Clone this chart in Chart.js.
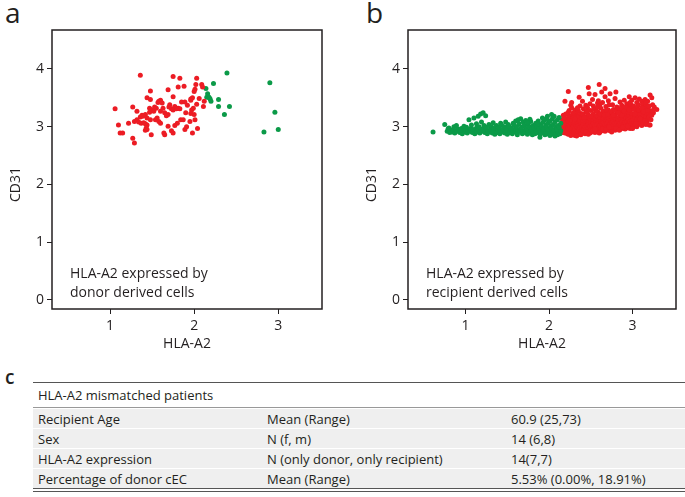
<!DOCTYPE html>
<html>
<head>
<meta charset="utf-8">
<script src="https://cdn.jsdelivr.net/npm/chart.js@4.4.0/dist/chart.umd.min.js"></script>
<style>
  body { margin:0; width:685px; height:497px; background:#fff; position:relative; overflow:hidden;
         font-family:"Open Sans", sans-serif; color:#231f20; }
  canvas { position:absolute; top:0; }
  #chartA { left:0; }
  #chartB { left:356px; }
  .panel { position:absolute; font-size:28px; line-height:1; }
  #lblC { font-size:19px; font-weight:600; left:5px; top:368px; }
  table { position:absolute; left:33px; top:382px; width:652px; border-collapse:separate; border-spacing:0;
          font-size:13px; color:#231f20; border-top:1px solid #555; border-bottom:4px double #555; }
  td { padding:0 0 0 5px; height:19px; text-align:left; white-space:nowrap; }
  thead td { height:24px; border-bottom:1px solid #999; }
  tbody td { background:#efefef; border-top:1px solid #fff; }
</style>
</head>
<body>
<div class="panel" style="left:5px;top:-2px">a</div>
<div class="panel" style="left:366px;top:-2px">b</div>
<canvas id="chartA" width="340" height="360"></canvas>
<canvas id="chartB" width="329" height="360"></canvas>
<div class="panel" id="lblC">c</div>
<table id="tbl">
  <colgroup><col style="width:229px"><col style="width:244px"><col></colgroup>
  <thead></thead><tbody></tbody>
</table>
<script>
const xTicks = [1, 2, 3];
const yTicks = [0, 1, 2, 3, 4];

// panel a: donor derived cells
const aRed = [
  [1.36,3.89],[1.75,3.87],[1.83,3.84],[2.03,3.84],[1.81,3.69],[1.88,3.70],[1.69,3.64],[1.48,3.62],
  [2.02,3.73],[2.09,3.73],[2.10,3.69],[2.00,3.61],[2.01,3.65],[1.75,3.52],[1.44,3.50],[1.48,3.47],
  [1.58,3.44],[1.60,3.46],[1.57,3.42],[1.85,3.43],[1.89,3.43],[1.96,3.48],[1.98,3.50],[1.96,3.46],
  [2.06,3.49],[2.03,3.39],[2.12,3.44],[1.06,3.31],[1.27,3.34],[1.32,3.27],[1.47,3.32],[1.50,3.29],
  [1.52,3.27],[1.47,3.25],[1.55,3.32],[1.60,3.27],[1.71,3.38],[1.77,3.35],[1.81,3.32],[1.83,3.31],
  [1.75,3.29],[1.79,3.31],[1.73,3.31],[1.90,3.24],[1.97,3.29],[1.99,3.32],[1.96,3.23],[2.11,3.35],
  [1.69,3.21],[1.67,3.19],[1.65,3.24],[1.38,3.20],[1.42,3.21],[1.44,3.15],[1.36,3.17],[1.48,3.12],
  [1.54,3.12],[1.58,3.09],[1.29,3.09],[1.32,3.12],[1.22,3.06],[1.10,3.03],[1.34,3.08],[1.37,3.06],
  [1.42,3.05],[1.44,3.03],[1.43,2.98],[1.42,2.94],[1.44,2.95],[1.60,3.06],[1.69,3.01],[1.84,3.12],
  [1.87,3.12],[1.95,3.09],[2.00,3.21],[2.01,3.12],[1.77,3.02],[1.89,2.95],[1.98,2.89],[2.04,2.97],
  [1.12,2.89],[1.15,2.89],[1.49,2.86],[1.64,2.89],[1.65,2.86],[1.73,2.93],[1.75,2.89],[1.27,2.80],
  [1.29,2.72],[1.39,3.18],[1.40,3.07],[1.53,3.34],[1.62,3.41],[1.70,3.34],[1.56,3.15],[1.80,3.06],
  [1.92,3.37],[1.63,3.32],[1.91,3.00]
];
const aGreen = [
  [2.39,3.93],[2.23,3.75],[2.14,3.66],[2.16,3.57],[2.17,3.52],[2.15,3.51],[2.19,3.48],[2.20,3.44],
  [2.18,3.50],[2.29,3.47],[2.29,3.35],[2.42,3.35],[2.36,3.21],[2.90,3.76],[2.96,3.25],[3.00,2.95],
  [2.83,2.91]
];

// panel b: recipient derived cells
const bGreen = [
  [0.61,2.91],[0.75,3.04],[0.78,2.92],[0.79,2.96],[0.81,2.90],[0.82,2.94],[0.80,2.98],[0.84,2.91],
  [0.85,2.95],[0.87,2.89],[0.88,2.93],[0.86,3.00],[0.90,2.92],[0.91,2.96],[0.89,3.02],[0.93,2.90],
  [0.94,2.94],[0.96,2.88],[0.97,2.93],[0.95,2.97],[0.99,2.91],[1.00,2.95],[0.98,3.01],[1.02,2.89],
  [1.03,2.94],[1.01,2.99],[1.05,2.92],[1.06,2.97],[1.04,3.12],[1.08,2.90],[1.09,2.95],[1.07,3.03],
  [1.10,3.15],[1.11,2.88],[1.12,2.93],[1.13,2.98],[1.14,2.91],[1.15,2.96],[1.13,3.05],[1.15,3.18],
  [1.17,2.89],[1.18,2.94],[1.16,3.00],[1.18,3.22],[1.20,2.92],[1.21,2.97],[1.19,3.08],[1.21,3.24],
  [1.23,2.90],[1.24,2.95],[1.22,3.02],[1.24,3.19],[1.26,2.88],[1.27,2.93],[1.25,2.99],[1.29,2.91],
  [1.30,2.96],[1.28,3.04],[1.32,2.89],[1.33,2.94],[1.31,3.00],[1.33,3.07],[1.35,2.87],[1.36,2.92],
  [1.34,2.97],[1.38,2.90],[1.39,2.95],[1.37,3.02],[1.41,2.88],[1.42,2.93],[1.40,2.99],[1.42,3.06],
  [1.44,2.91],[1.45,2.96],[1.43,3.03],[1.47,2.89],[1.48,2.94],[1.46,3.00],[1.48,3.08],[1.50,2.87],
  [1.51,2.92],[1.49,2.97],[1.51,3.04],[1.53,2.90],[1.54,2.95],[1.52,3.01],[1.56,2.88],[1.57,2.93],
  [1.55,2.98],[1.57,3.06],[1.59,2.91],[1.60,2.96],[1.58,3.03],[1.60,3.10],[1.62,2.86],[1.62,2.89],
  [1.63,2.94],[1.61,3.00],[1.63,3.12],[1.65,2.92],[1.66,2.97],[1.64,3.05],[1.66,3.14],[1.68,2.88],
  [1.69,2.93],[1.67,2.99],[1.69,3.08],[1.71,2.90],[1.72,2.95],[1.70,3.02],[1.72,3.11],[1.74,2.87],
  [1.75,2.92],[1.73,2.97],[1.75,3.04],[1.77,2.89],[1.78,2.94],[1.76,3.00],[1.78,3.09],[1.77,3.13],
  [1.80,2.86],[1.81,2.91],[1.79,2.96],[1.81,3.02],[1.83,2.88],[1.84,2.93],[1.82,2.98],[1.84,3.06],
  [1.86,2.90],[1.87,2.95],[1.85,3.01],[1.87,3.10],[1.89,2.82],[1.89,2.87],[1.90,2.92],[1.88,2.97],
  [1.90,3.04],[1.92,2.89],[1.93,2.94],[1.91,3.00],[1.93,3.08],[1.92,3.15],[1.95,2.86],[1.96,2.91],
  [1.94,2.96],[1.96,3.03],[1.95,3.12],[1.98,2.88],[1.99,2.93],[1.97,2.99],[1.99,3.06],[1.98,3.18],
  [2.01,2.85],[2.02,2.90],[2.00,2.95],[2.02,3.01],[2.01,3.10],[2.03,3.21],[2.04,2.87],[2.05,2.92],
  [2.03,2.97],[2.05,3.04],[2.04,3.14],[2.07,2.84],[2.08,2.89],[2.06,2.94],[2.08,3.00],[2.07,3.08],
  [2.10,2.86],[2.11,2.91],[2.09,2.96],[2.11,3.02],[2.10,3.12],[2.13,2.88],[2.14,2.93],[2.12,2.99],
  [2.14,3.06],[1.97,3.14],[2.06,3.18],[1.86,3.06],[1.74,3.07],[2.12,3.16]
];
const bRed = [
  [2.15,2.95],[2.16,3.00],[2.15,3.06],[2.16,3.12],[2.17,2.92],[2.18,2.98],[2.17,3.04],[2.18,3.10],
  [2.17,3.20],[2.19,2.89],[2.20,2.96],[2.19,3.02],[2.20,3.08],[2.19,3.15],[2.19,3.44],[2.21,2.94],
  [2.22,3.00],[2.21,3.06],[2.22,3.13],[2.23,3.61],[2.23,2.87],[2.24,2.91],[2.23,2.97],[2.24,3.03],
  [2.23,3.10],[2.24,3.18],[2.23,3.25],[2.25,2.89],[2.26,2.95],[2.25,3.01],[2.26,3.07],[2.25,3.14],
  [2.27,3.42],[2.27,2.86],[2.28,2.92],[2.27,2.98],[2.28,3.04],[2.27,3.11],[2.28,3.21],[2.29,2.88],
  [2.30,2.94],[2.29,3.00],[2.30,3.06],[2.29,3.16],[2.31,3.29],[2.31,2.85],[2.32,2.91],[2.31,2.97],
  [2.32,3.03],[2.31,3.09],[2.32,3.20],[2.33,2.88],[2.34,2.94],[2.33,3.00],[2.34,3.07],[2.33,3.13],
  [2.34,3.26],[2.36,3.51],[2.35,2.90],[2.36,2.96],[2.35,3.02],[2.36,3.10],[2.35,3.18],[2.37,2.87],
  [2.38,2.93],[2.37,2.99],[2.38,3.05],[2.37,3.12],[2.38,3.23],[2.40,3.44],[2.39,2.89],[2.40,2.95],
  [2.39,3.01],[2.40,3.08],[2.39,3.16],[2.41,3.31],[2.41,2.91],[2.42,2.97],[2.41,3.03],[2.42,3.10],
  [2.41,3.20],[2.44,3.37],[2.43,2.88],[2.44,2.94],[2.43,3.00],[2.44,3.06],[2.43,3.13],[2.44,3.25],
  [2.48,3.57],[2.45,2.90],[2.46,2.96],[2.45,3.02],[2.46,3.09],[2.45,3.17],[2.46,3.33],[2.47,2.92],
  [2.48,2.98],[2.47,3.04],[2.48,3.11],[2.47,3.21],[2.47,3.68],[2.49,2.89],[2.50,2.95],[2.49,3.01],
  [2.50,3.07],[2.49,3.14],[2.50,3.28],[2.52,3.47],[2.51,2.91],[2.52,2.97],[2.51,3.03],[2.52,3.10],
  [2.51,3.18],[2.53,3.36],[2.53,2.93],[2.54,2.99],[2.53,3.05],[2.54,3.12],[2.53,3.22],[2.55,3.56],
  [2.55,2.90],[2.56,2.96],[2.55,3.02],[2.56,3.08],[2.55,3.15],[2.56,3.30],[2.58,3.41],[2.57,2.92],
  [2.58,2.98],[2.57,3.04],[2.58,3.11],[2.57,3.19],[2.63,3.60],[2.59,2.94],[2.60,3.00],[2.59,3.06],
  [2.60,3.13],[2.59,3.25],[2.61,3.39],[2.61,2.91],[2.62,2.97],[2.61,3.03],[2.62,3.09],[2.61,3.16],
  [2.62,3.32],[2.60,3.73],[2.63,2.93],[2.64,2.99],[2.63,3.05],[2.64,3.12],[2.63,3.21],[2.67,3.52],
  [2.65,2.95],[2.66,3.01],[2.65,3.07],[2.66,3.14],[2.65,3.27],[2.67,3.66],[2.67,2.92],[2.68,2.98],
  [2.67,3.04],[2.68,3.10],[2.67,3.18],[2.68,3.35],[2.71,3.45],[2.69,2.94],[2.70,3.00],[2.69,3.06],
  [2.70,3.13],[2.69,3.23],[2.73,3.57],[2.71,2.96],[2.72,3.02],[2.71,3.08],[2.72,3.15],[2.71,3.29],
  [2.73,2.93],[2.74,2.99],[2.73,3.05],[2.74,3.11],[2.73,3.19],[2.76,3.38],[2.75,2.95],[2.76,3.01],
  [2.75,3.07],[2.76,3.14],[2.75,3.24],[2.79,3.49],[2.77,2.97],[2.78,3.03],[2.77,3.09],[2.78,3.16],
  [2.77,3.30],[2.80,3.60],[2.79,2.94],[2.80,3.00],[2.79,3.06],[2.80,3.12],[2.79,3.20],[2.81,3.34],
  [2.81,2.96],[2.82,3.02],[2.81,3.08],[2.82,3.15],[2.81,3.26],[2.85,3.43],[2.83,2.98],[2.84,3.04],
  [2.83,3.10],[2.84,3.17],[2.83,3.31],[2.85,2.95],[2.86,3.01],[2.85,3.07],[2.86,3.13],[2.85,3.22],
  [2.87,3.37],[2.87,2.97],[2.88,3.03],[2.87,3.09],[2.88,3.16],[2.87,3.27],[2.90,3.46],[2.89,2.99],
  [2.90,3.05],[2.89,3.11],[2.90,3.19],[2.89,3.33],[2.91,2.96],[2.92,3.02],[2.91,3.08],[2.92,3.14],
  [2.91,3.23],[2.93,3.40],[2.96,3.52],[2.93,2.98],[2.94,3.04],[2.93,3.10],[2.94,3.17],[2.93,3.29],
  [2.95,3.00],[2.96,3.06],[2.95,3.12],[2.96,3.20],[2.95,3.35],[2.99,3.46],[2.97,2.97],[2.98,3.03],
  [2.97,3.09],[2.98,3.15],[2.97,3.25],[2.98,3.38],[2.99,2.99],[3.00,3.05],[2.99,3.11],[3.00,3.18],
  [2.99,3.31],[3.03,3.50],[3.01,3.01],[3.02,3.07],[3.01,3.13],[3.02,3.21],[3.01,3.36],[3.03,3.03],
  [3.04,3.09],[3.03,3.16],[3.04,3.27],[3.05,3.42],[3.05,3.00],[3.06,3.06],[3.05,3.12],[3.06,3.19],
  [3.05,3.32],[3.08,3.48],[3.07,3.04],[3.08,3.10],[3.07,3.17],[3.08,3.24],[3.07,3.38],[3.09,3.07],
  [3.10,3.13],[3.09,3.21],[3.10,3.30],[3.11,3.44],[3.11,3.02],[3.12,3.09],[3.11,3.16],[3.12,3.26],
  [3.12,3.39],[3.13,3.06],[3.14,3.12],[3.13,3.20],[3.14,3.33],[3.15,3.47],[3.15,3.10],[3.16,3.18],
  [3.15,3.28],[3.16,3.38],[3.17,3.08],[3.18,3.15],[3.17,3.23],[3.18,3.35],[3.18,3.44],[3.19,3.14],
  [3.20,3.22],[3.19,3.30],[3.21,3.03],[3.20,3.17],[3.21,3.55],[3.22,3.27],[3.23,3.20],[3.24,3.38],
  [3.23,3.50],[3.25,3.24],[3.26,3.34],[3.29,3.30],
  [2.16,2.90],[2.18,3.16],[2.20,3.22],[2.22,2.88],[2.24,3.28],[2.26,2.85],[2.27,3.33],[2.29,3.24],
  [2.31,3.14],[2.33,2.84],[2.35,3.28],[2.37,3.36],[2.38,2.86],[2.40,3.22],[2.42,3.16],[2.44,2.91],
  [2.45,3.27],[2.47,2.87],[2.49,3.40],[2.50,3.18],[2.52,2.93],[2.54,3.30],[2.55,2.96],[2.57,3.27],
  [2.59,3.45],[2.60,2.89],[2.61,3.22],[2.64,3.42],[2.64,2.96],[2.66,3.20],[2.68,2.95],[2.69,3.30],
  [2.72,3.38],[2.72,2.99],[2.74,3.26],[2.75,2.91],[2.77,3.20],[2.79,3.28],[2.80,2.97],[2.82,3.33],
  [2.84,2.94],[2.85,3.30],[2.87,3.20],[2.88,2.99],[2.90,3.27],[2.92,3.34],[2.94,3.01],[2.95,3.25],
  [2.97,3.42],[2.99,3.23],[3.00,2.97],[3.02,3.30],[3.04,3.05],[3.06,3.36],[3.07,3.29],[3.09,3.14],
  [3.11,3.33],[3.13,3.26],[3.16,3.42],[3.16,3.04],[3.18,3.28],[3.20,3.36],[3.22,3.12],[3.24,3.28],
  [3.20,3.03],[2.26,3.37],[2.34,3.33],[2.58,3.34],[2.70,3.21],[2.83,3.24],[2.96,3.29],[3.03,3.22]
];

const noteA = ["HLA-A2 expressed by", "donor derived cells"];
const noteB = ["HLA-A2 expressed by", "recipient derived cells"];

const tableTitle = "HLA-A2 mismatched patients";
const tableRows = [
  ["Recipient Age", "Mean (Range)", "60.9 (25,73)"],
  ["Sex", "N (f, m)", "14 (6,8)"],
  ["HLA-A2 expression", "N (only donor, only recipient)", "14(7,7)"],
  ["Percentage of donor cEC", "Mean (Range)", "5.53% (0.00%, 18.91%)"]
];

const RED = "#ec1c24";
const GREEN = "#0b9a48";
const INK = "#231f20";
const FONT = { family: "'Open Sans', sans-serif", size: 14 };

// table
document.querySelector("#tbl thead").innerHTML = `<tr><td colspan="3">${tableTitle}</td></tr>`;
document.querySelector("#tbl tbody").innerHTML =
  tableRows.map(r => `<tr>${r.map(c => `<td>${c}</td>`).join("")}</tr>`).join("");

// box, y title and note text
const framePlugin = {
  id: "frame",
  afterDraw(chart, args, opts) {
    const { ctx, chartArea: ca, scales } = chart;
    ctx.save();
    ctx.strokeStyle = INK;
    ctx.lineWidth = 1.5;
    ctx.strokeRect(ca.left, ca.top, ca.right - ca.left, ca.bottom - ca.top);

    ctx.fillStyle = INK;
    ctx.font = "14px 'Open Sans', sans-serif";
    ctx.textBaseline = "alphabetic";
    ctx.textAlign = "left";
    opts.note.forEach((t, i) => {
      ctx.fillText(t, ca.left + 18, ca.bottom - 31 + i * 19);
    });

    const y = scales.y;
    const yc = (y.getPixelForValue(yTicks[0]) + y.getPixelForValue(yTicks[yTicks.length - 1])) / 2;
    ctx.translate(ca.left - 36, yc);
    ctx.rotate(-Math.PI / 2);
    ctx.textAlign = "center";
    ctx.textBaseline = "middle";
    ctx.fillText("CD31", 0, 0);
    ctx.restore();
  }
};

function makeChart(id, datasets, note, rightPad) {
  return new Chart(document.getElementById(id), {
    type: "scatter",
    data: { datasets },
    plugins: [framePlugin],
    options: {
      responsive: false,
      animation: false,
      events: [],
      layout: { padding: { top: 30, right: rightPad, left: 0, bottom: 0 } },
      plugins: { legend: { display: false }, tooltip: { enabled: false }, frame: { note } },
      elements: { point: { radius: 2.5, borderWidth: 0, hoverRadius: 2.5 } },
      scales: {
        x: {
          type: "linear", min: 0.31, max: 3.52,
          afterBuildTicks: s => { s.ticks = xTicks.map(v => ({ value: v })); },
          afterFit: s => { s.height = 51; },
          grid: { drawOnChartArea: false, drawTicks: true, tickLength: 5, color: INK, lineWidth: 1 },
          border: { display: false },
          ticks: { padding: 4, color: INK, font: FONT, maxRotation: 0 },
          title: { display: true, text: "HLA-A2", color: INK, font: FONT, padding: { top: 0, bottom: 8 } }
        },
        y: {
          type: "linear", min: -0.156, max: 4.675,
          afterBuildTicks: s => { s.ticks = yTicks.map(v => ({ value: v })); },
          afterFit: s => { s.width = 52; },
          grid: { drawOnChartArea: false, drawTicks: true, tickLength: 5, color: INK, lineWidth: 1 },
          border: { display: false },
          ticks: { padding: 3, color: INK, font: FONT }
        }
      }
    }
  });
}

makeChart("chartA", [
  { data: aRed.map(([x, y]) => ({ x, y })), backgroundColor: RED },
  { data: aGreen.map(([x, y]) => ({ x, y })), backgroundColor: GREEN }
], noteA, 18);

makeChart("chartB", [
  { data: bGreen.map(([x, y]) => ({ x, y })), backgroundColor: GREEN },
  { data: bRed.map(([x, y]) => ({ x, y })), backgroundColor: RED }
], noteB, 9);
</script>
</body>
</html>
